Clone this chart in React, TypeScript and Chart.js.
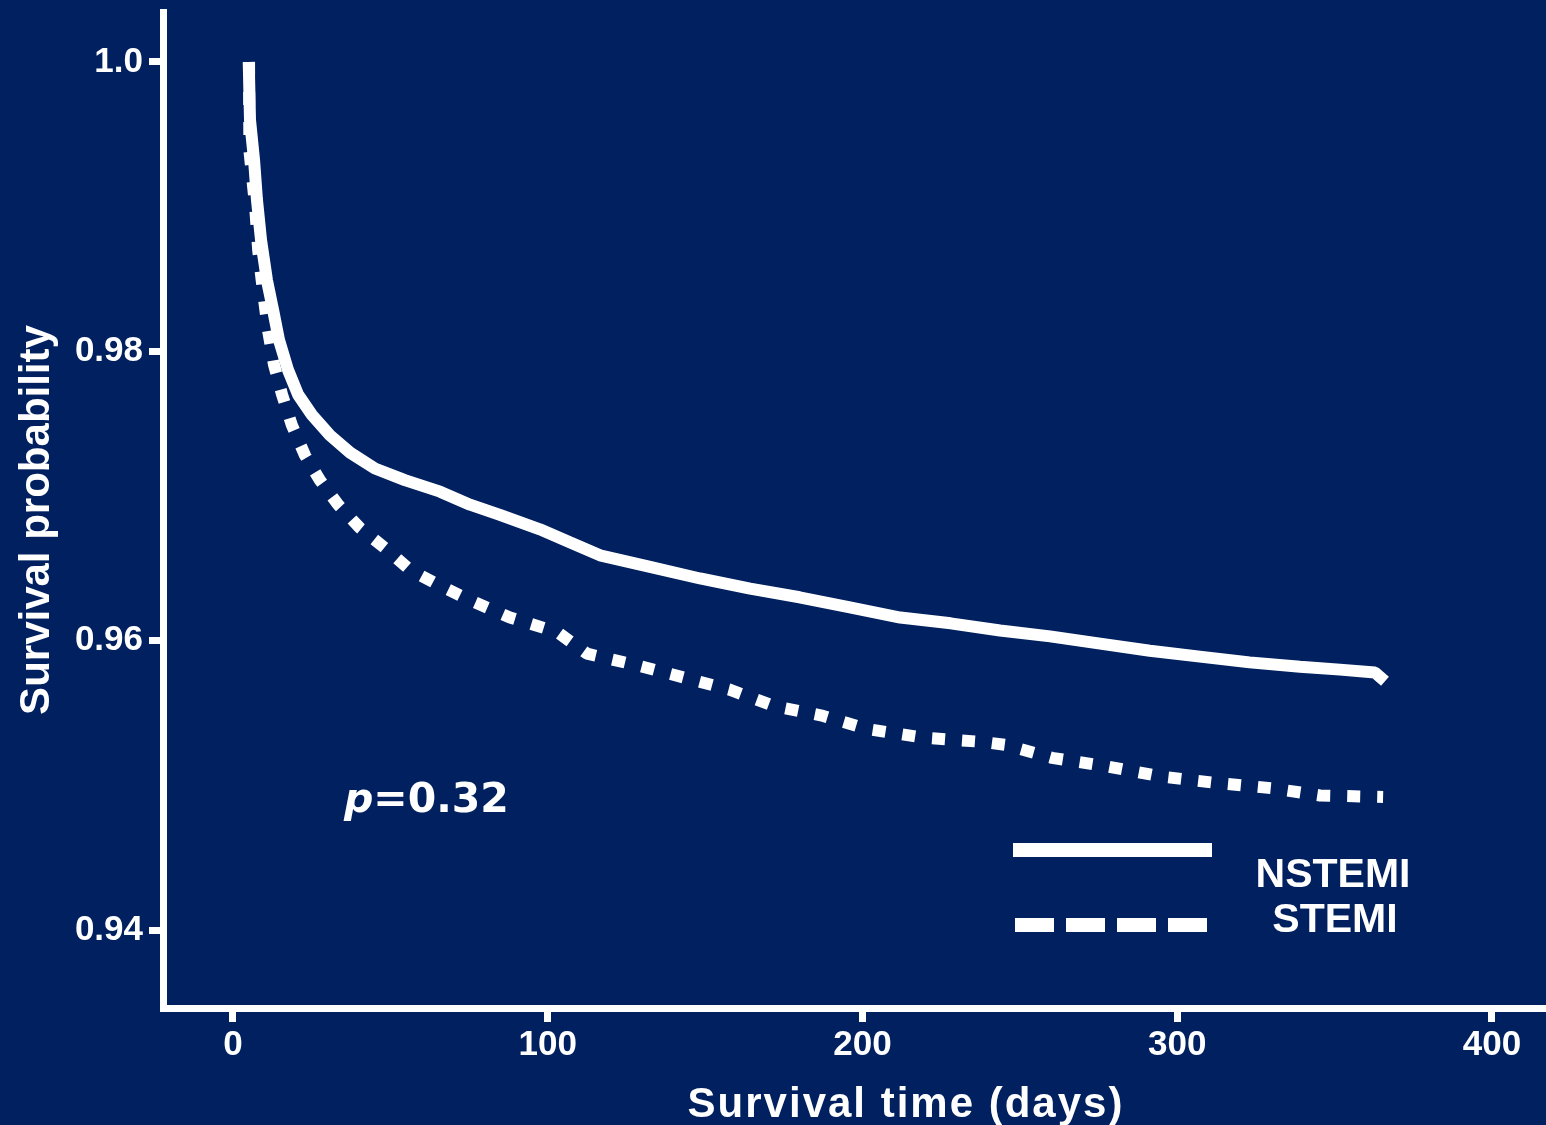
import React, { useEffect, useRef } from 'react';
import { Chart, registerables } from 'chart.js';

Chart.register(...registerables);

// ---- data ----
const nstemiDays = [5, 5.4, 6.7, 7.6, 8.9, 10.8, 12.7, 14.6, 17.5, 20.7, 25.1, 30.8, 37.2, 45.1, 54.6, 65.8, 75.3, 84.8, 97.5, 107, 116.6, 132.5, 148.4, 164.3, 180, 196, 212, 228, 243.7, 259.6, 275.5, 291.3, 307.2, 323, 339, 351.7, 362.8, 366];
const nstemiSurv = [1.0, 0.996, 0.9932, 0.9905, 0.9877, 0.9849, 0.9829, 0.9808, 0.9787, 0.977, 0.9756, 0.9742, 0.973, 0.9719, 0.9711, 0.9703, 0.9694, 0.9687, 0.9677, 0.9668, 0.9659, 0.9651, 0.9643, 0.9636, 0.963, 0.9623, 0.9616, 0.9612, 0.9607, 0.9603, 0.9598, 0.9593, 0.9589, 0.9585, 0.9582, 0.958, 0.9578, 0.9572];

const stemiDays = [5.1, 5.2, 7, 8, 9.5, 11.1, 13, 15.6, 18.7, 22.9, 27.6, 33.4, 40.3, 48.3, 56.2, 65.8, 75.3, 88, 103, 112.5, 128.4, 144.2, 158, 171.6, 187.5, 201.4, 219.2, 238.3, 245.3, 260.2, 278, 295.2, 311, 330.1, 345.4, 365.4];
const stemiSurv = [1.0, 0.9939, 0.9901, 0.987, 0.9842, 0.9815, 0.9791, 0.977, 0.9749, 0.9728, 0.9711, 0.9694, 0.9678, 0.9664, 0.9649, 0.9638, 0.9628, 0.9616, 0.9606, 0.9591, 0.9583, 0.9574, 0.9566, 0.9555, 0.9548, 0.9539, 0.9533, 0.953, 0.9528, 0.9519, 0.9513, 0.9506, 0.9502, 0.9498, 0.9493, 0.9492];

const xTicks = [0, 100, 200, 300, 400];
const yTicks = [0.94, 0.96, 0.98, 1.0];
const seriesNames = ['NSTEMI', 'STEMI'];
const xTitle = 'Survival time (days)';
const yTitle = 'Survival probability';
const pLabel = 'p';
const pValue = '=0.32';

const BG = '#01205f';
const FG = '#ffffff';
const SANS = '"Liberation Sans", Arial, sans-serif';

export default function App() {
  const ref = useRef<HTMLCanvasElement>(null);

  useEffect(() => {
    document.body.style.margin = '0';
    document.body.style.background = BG;
    const canvas = ref.current;
    if (!canvas) return;

    const bgPlugin = {
      id: 'bgFill',
      beforeDraw(chart: any) {
        const c = chart.ctx;
        c.save();
        c.fillStyle = BG;
        c.fillRect(0, 0, chart.width, chart.height);
        c.restore();
      },
    };

    const overlay = {
      id: 'overlay',
      afterDraw(chart: any) {
        const c = chart.ctx as CanvasRenderingContext2D;
        c.save();
        c.fillStyle = FG;
        c.strokeStyle = FG;

        // y axis title
        c.save();
        c.translate(37, 520);
        c.rotate(-Math.PI / 2);
        c.font = `bold 42px ${SANS}`;
        c.textAlign = 'center';
        c.textBaseline = 'middle';
        c.fillText(yTitle, 0, 0);
        c.restore();

        // x axis title
        c.save();
        c.font = `bold 42px ${SANS}`;
        (c as any).letterSpacing = '2px';
        c.textAlign = 'center';
        c.textBaseline = 'alphabetic';
        c.fillText(xTitle, 906, 1117);
        c.restore();

        // p value
        c.save();
        c.textAlign = 'left';
        c.textBaseline = 'alphabetic';
        c.font = `italic bold 41px "DejaVu Sans", sans-serif`;
        c.fillText(pLabel, 344, 812);
        const pw = c.measureText(pLabel).width;
        c.font = `bold 41px "DejaVu Sans", sans-serif`;
        c.fillText(pValue, 344 + pw, 812);
        c.restore();

        // legend
        c.fillRect(1013, 843, 199, 14);
        c.save();
        c.lineWidth = 14;
        c.lineCap = 'butt';
        c.setLineDash([39, 12]);
        c.beginPath();
        c.moveTo(1015, 925);
        c.lineTo(1207, 925);
        c.stroke();
        c.restore();

        c.font = `bold 41px ${SANS}`;
        c.textAlign = 'center';
        c.textBaseline = 'alphabetic';
        c.fillText(seriesNames[0], 1333, 887);
        c.fillText(seriesNames[1], 1335, 932);
        c.restore();
      },
    };

    const tickFont = { family: SANS, size: 35, weight: 'bold' as const };

    const chart = new Chart(canvas, {
      type: 'line',
      data: {
        datasets: [
          {
            label: seriesNames[0],
            data: nstemiDays.map((d, i) => ({ x: d, y: nstemiSurv[i] })),
            borderColor: FG,
            borderWidth: 12,
            pointRadius: 0,
            tension: 0,
            fill: false,
            borderCapStyle: 'butt',
            borderJoinStyle: 'bevel',
          },
          {
            label: seriesNames[1],
            data: stemiDays.map((d, i) => ({ x: d, y: stemiSurv[i] })),
            borderColor: FG,
            borderWidth: 12,
            borderDash: [13, 17],
            pointRadius: 0,
            tension: 0,
            fill: false,
            borderCapStyle: 'butt',
            borderJoinStyle: 'bevel',
          },
        ],
      },
      options: {
        responsive: false,
        animation: false,
        devicePixelRatio: 1,
        layout: { padding: { top: 12, right: 0, left: 0, bottom: 0 } },
        plugins: {
          legend: { display: false },
          tooltip: { enabled: false },
          title: { display: false },
        },
        scales: {
          x: {
            type: 'linear',
            min: -22.24,
            max: 417.16,
            afterBuildTicks: (s: any) => {
              s.ticks = xTicks.map((v) => ({ value: v }));
            },
            afterFit: (s: any) => {
              s.height = 117;
              s.paddingLeft = 0;
              s.paddingRight = 0;
            },
            grid: {
              display: true,
              drawOnChartArea: false,
              drawTicks: true,
              tickLength: 14,
              lineWidth: 7,
              color: FG,
            },
            border: { display: true, color: FG, width: 7 },
            ticks: {
              color: FG,
              font: tickFont,
              padding: 2,
              maxRotation: 0,
              autoSkip: false,
              callback: (v: any) => String(v),
            },
          },
          y: {
            type: 'linear',
            min: 0.93461,
            max: 1.003456,
            afterBuildTicks: (s: any) => {
              s.ticks = yTicks.map((v) => ({ value: v }));
            },
            afterFit: (s: any) => {
              s.width = 163;
              s.paddingTop = 0;
              s.paddingBottom = 0;
            },
            grid: {
              display: true,
              drawOnChartArea: false,
              drawTicks: true,
              tickLength: 14,
              lineWidth: 7,
              color: FG,
            },
            border: { display: true, color: FG, width: 7 },
            ticks: {
              color: FG,
              font: tickFont,
              padding: 6,
              autoSkip: false,
              callback: (v: any) => (Number(v) === 1 ? '1.0' : Number(v).toFixed(2)),
            },
          },
        },
      },
      plugins: [bgPlugin, overlay],
    } as any);

    return () => chart.destroy();
  }, []);

  return (
    <div style={{ position: 'fixed', left: 0, top: 0, width: 1546, height: 1125, background: BG }}>
      <canvas ref={ref} width={1546} height={1125} style={{ display: 'block', width: 1546, height: 1125 }} />
    </div>
  );
}
